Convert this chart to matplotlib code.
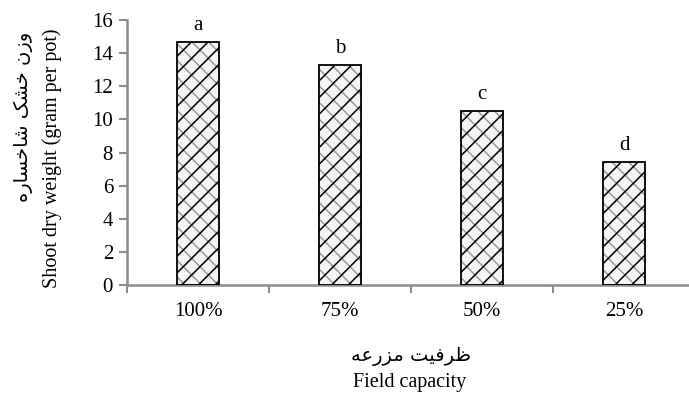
import matplotlib
matplotlib.use('Agg')
import matplotlib.pyplot as plt

# data
categories = ['100%', '75%', '50%', '25%']
shoot_dry_weight = [14.7, 13.3, 10.5, 7.45]
letters = ['a', 'b', 'c', 'd']
yticks = [0, 2, 4, 6, 8, 10, 12, 14, 16]

# Persian labels, shaped by hand (presentation forms, visual order)
ylabel_fa = '\uFEE9\uFEAD\uFE8E\uFEB4\uFEA7\uFE8E\uFEB7 \uFB8F\uFEB8\uFEA7 \uFEE5\uFEAF\uFEED'
xlabel_fa = '\uFEEA\uFECB\uFEAD\uFEB0\uFEE3 \uFE96\uFEF4\uFED3\uFEAE\uFEC7'
ylabel_en = 'Shoot dry weight (gram per pot)'
xlabel_en = 'Field capacity'

fs = 15
serif = ['Liberation Serif', 'DejaVu Serif']
persian = ['DejaVu Sans']
axcol = '#8c8c8c'

plt.rcParams['font.family'] = serif
plt.rcParams['hatch.linewidth'] = 1.1

fig = plt.figure(figsize=(6.89, 3.96), dpi=100)
ax = fig.add_axes([127/689, 111/396, 568/689, 265/396])

xpos = list(range(len(categories)))
# brick-like pattern: thin grey back-slashes under bold forward slashes
ax.bar(xpos, shoot_dry_weight, width=0.30, color='#f4f4f4',
       edgecolor='#9a9a9a', linewidth=0, hatch='\\\\', zorder=2)
bars = ax.bar(xpos, shoot_dry_weight, width=0.30, color='none',
              edgecolor='black', linewidth=1.3, hatch='//', zorder=3)

for b, lab in zip(bars, letters):
    ax.annotate(lab, (b.get_x() + b.get_width()/2, b.get_height()),
                xytext=(0, 5), textcoords='offset points',
                ha='center', va='bottom', fontsize=fs)

ax.set_xlim(-0.5, len(categories) - 0.5)
ax.set_ylim(0, 16)
ax.set_yticks(yticks)
ax.set_yticklabels([str(v) for v in yticks], fontsize=fs)

# ticks between categories, labels at the centre
ax.set_xticks([i - 0.5 for i in range(len(categories) + 1)])
ax.set_xticklabels([])
ax.set_xticks(xpos, minor=True)
ax.set_xticklabels(categories, minor=True, fontsize=fs)
ax.tick_params(axis='x', which='minor', length=0, pad=12)
ax.tick_params(axis='x', which='major', length=6, width=1.5, color=axcol)
ax.tick_params(axis='y', length=6, width=1.5, color=axcol, pad=4)

for s in ['top', 'right']:
    ax.spines[s].set_visible(False)
for s in ['left', 'bottom']:
    ax.spines[s].set_color(axcol)
    ax.spines[s].set_linewidth(1.8)

fig.text(52/689, 1 - 28/396, ylabel_en, rotation=90, ha='center', va='top', fontsize=14.5)
fig.text(23/689, 1 - 32/396, ylabel_fa, rotation=90, ha='center', va='top',
         fontsize=14, family=persian)
fig.text(411/689, 1 - 357/396, xlabel_fa, ha='center', va='center',
         fontsize=14, family=persian)
fig.text(410/689, 1 - 383/396, xlabel_en, ha='center', va='center', fontsize=14.5)

fig.savefig('out.png', dpi=100)
